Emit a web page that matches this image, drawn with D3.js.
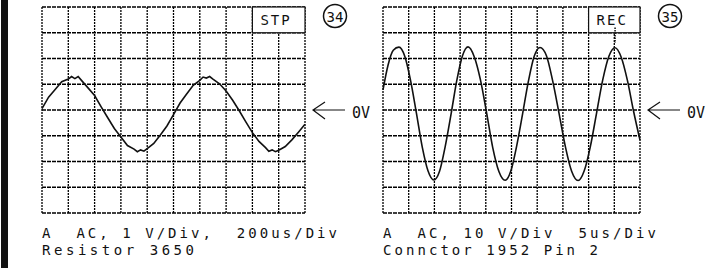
<!DOCTYPE html>
<html>
<head>
<meta charset="utf-8">
<script src="https://cdn.jsdelivr.net/npm/d3@7"></script>
<style>
  body { margin: 0; background: #fff; }
  text { font-family: "DejaVu Sans Mono", monospace; fill: #111; white-space: pre; }
</style>
</head>
<body>
<div class="canvas"></div>
<script>
// trace 34: time in us, volts
const timeA = [0, 50, 100, 150, 200, 225, 250, 275, 300, 350, 400, 450, 500, 550, 600, 650, 700, 725, 750, 775, 800,
  850, 900, 950, 1000, 1050, 1100, 1150, 1200, 1225, 1250, 1275, 1300, 1350, 1400, 1450, 1500, 1550, 1600, 1650,
  1700, 1725, 1750, 1775, 1800, 1850, 1900, 1950, 2000];
const voltsA = [0.05, 0.50, 0.80, 1.10, 1.20, 1.30, 1.22, 1.30, 1.15, 0.86, 0.56, 0.12, -0.30, -0.72, -1.05, -1.38,
  -1.52, -1.62, -1.55, -1.60, -1.50, -1.30, -0.97, -0.62, -0.18, 0.27, 0.62, 0.96, 1.15, 1.28, 1.24, 1.30, 1.20,
  1.02, 0.74, 0.38, -0.03, -0.46, -0.88, -1.22, -1.46, -1.60, -1.55, -1.62, -1.56, -1.42, -1.16, -0.86, -0.55];

// trace 35: time in us, volts
const timeB = [0, 1.0, 2.0, 3.1, 4.25, 5.35, 6.5, 7.65, 8.75, 9.9, 11.0, 12.1, 13.25, 14.35, 15.45, 16.55, 17.75,
  18.95, 20.15, 21.35, 22.55, 23.75, 24.9, 26.0, 27.15, 28.3, 29.4, 30.55, 31.8, 33.0, 34.25, 35.5, 36.7, 37.95,
  39.15, 40.35, 41.55, 42.75, 43.95, 45.15, 46.35, 47.55, 48.75, 50];
const voltsB = [7.8, 17.6, 23.2, 24.4, 20.8, 11.6, -1.2, -14.5, -23.6, -27.2, -23.8, -14.2, -1.5, 11.4, 21.0, 24.5,
  20.7, 11.8, -1.0, -14.6, -23.9, -27.3, -23.5, -14.0, -1.6, 11.3, 20.8, 24.3, 21.1, 11.4, -1.3, -14.4, -23.8,
  -27.4, -23.6, -14.1, -1.2, 11.7, 20.9, 24.2, 20.5, 11.5, -0.5, -11.7];

const markerB = 45.15;

const panels = [
  { id: '34', mode: 'STP', time: timeA, volts: voltsA, tmax: 2000, vdiv: 1,
    line1: 'A  AC, 1 V/Div,  200us/Div', line2: 'Resistor 3650' },
  { id: '35', mode: 'REC', time: timeB, volts: voltsB, tmax: 50, vdiv: 10,
    line1: 'A  AC, 10 V/Div  5us/Div', line2: 'Connctor 1952 Pin 2' }
];

const svg = d3.select('.canvas')
  .append('svg')
  .attr('width', 707)
  .attr('height', 268)
  .style('display', 'block');

svg.append('rect').attr('width', 707).attr('height', 268).attr('fill', '#fff');

// binder edge
svg.append('rect').attr('x', 1).attr('y', 0).attr('width', 7).attr('height', 268).attr('fill', '#111');

const gridTop = 7, gridBottom = 213;
const lefts = [42, 383], rights = [305, 640];
const captionWidths = [[295, 152], [273, 215]];

panels.forEach((p, i) => {
  const x = d3.scaleLinear().domain([0, p.tmax]).range([lefts[i], rights[i]]);
  const y = d3.scaleLinear().domain([-4 * p.vdiv, 4 * p.vdiv]).range([gridBottom, gridTop]);
  const g = svg.append('g');

  // graticule
  g.selectAll('.vl')
    .data(d3.range(0, p.tmax + p.tmax / 20, p.tmax / 10))
    .enter().append('line')
    .attr('x1', d => x(d)).attr('x2', d => x(d))
    .attr('y1', gridTop).attr('y2', gridBottom)
    .attr('stroke', '#000').attr('stroke-width', 1.3)
    .attr('stroke-dasharray', '2,1');

  g.selectAll('.hl')
    .data(d3.range(-4, 5).map(k => k * p.vdiv))
    .enter().append('line')
    .attr('x1', lefts[i]).attr('x2', rights[i])
    .attr('y1', d => y(d)).attr('y2', d => y(d))
    .attr('stroke', '#000').attr('stroke-width', 1.5)
    .attr('stroke-dasharray', '4,1');

  // mode box in the top right cell
  const bx = x(p.tmax * 0.8);
  g.append('rect')
    .attr('x', bx).attr('y', y(4 * p.vdiv))
    .attr('width', rights[i] - bx).attr('height', y(3 * p.vdiv) - y(4 * p.vdiv))
    .attr('fill', '#fff').attr('stroke', '#111').attr('stroke-width', 1.2);
  g.append('text')
    .attr('x', bx + 8).attr('y', 25)
    .attr('font-size', 14).attr('letter-spacing', 2)
    .text(p.mode);

  // trace
  const pts = p.time.map((t, k) => [t, p.volts[k]]);
  g.append('path')
    .datum(pts)
    .attr('fill', 'none')
    .attr('stroke', '#111')
    .attr('stroke-width', 1.6)
    .attr('d', d3.line().x(d => x(d[0])).y(d => y(d[1])).curve(i === 0 ? d3.curveLinear : d3.curveMonotoneX));

  if (i === 1) {
    g.append('line')
      .attr('x1', x(markerB)).attr('x2', x(markerB))
      .attr('y1', y(32)).attr('y2', y(26))
      .attr('stroke', '#111').attr('stroke-width', 1.5)
      .attr('stroke-dasharray', '1.5,1');
  }

  // 0V arrow
  const ax = rights[i] + 8, ay = y(0);
  g.append('path')
    .attr('d', `M${ax + 12},${ay - 8} L${ax},${ay} L${ax + 12},${ay + 9} M${ax},${ay} L${ax + 32},${ay}`)
    .attr('fill', 'none').attr('stroke', '#111').attr('stroke-width', 1.2);
  g.append('text')
    .attr('x', ax + 39).attr('y', ay + 8)
    .attr('font-size', 15)
    .text('0V');

  // circled figure number
  const cx = rights[i] + 30;
  g.append('circle')
    .attr('cx', cx).attr('cy', 16).attr('r', 11.5)
    .attr('fill', 'none').attr('stroke', '#111').attr('stroke-width', 1.5);
  g.append('text')
    .attr('x', cx).attr('y', 21.5)
    .attr('text-anchor', 'middle')
    .attr('font-family', 'DejaVu Sans')
    .attr('font-size', 14)
    .text(p.id);

  // captions
  g.append('text')
    .attr('x', lefts[i]).attr('y', 238)
    .attr('font-size', 14)
    .attr('textLength', captionWidths[i][0]).attr('lengthAdjust', 'spacing')
    .text(p.line1);
  g.append('text')
    .attr('x', lefts[i]).attr('y', 255)
    .attr('font-size', 14)
    .attr('textLength', captionWidths[i][1]).attr('lengthAdjust', 'spacing')
    .text(p.line2);
});
</script>
</body>
</html>
